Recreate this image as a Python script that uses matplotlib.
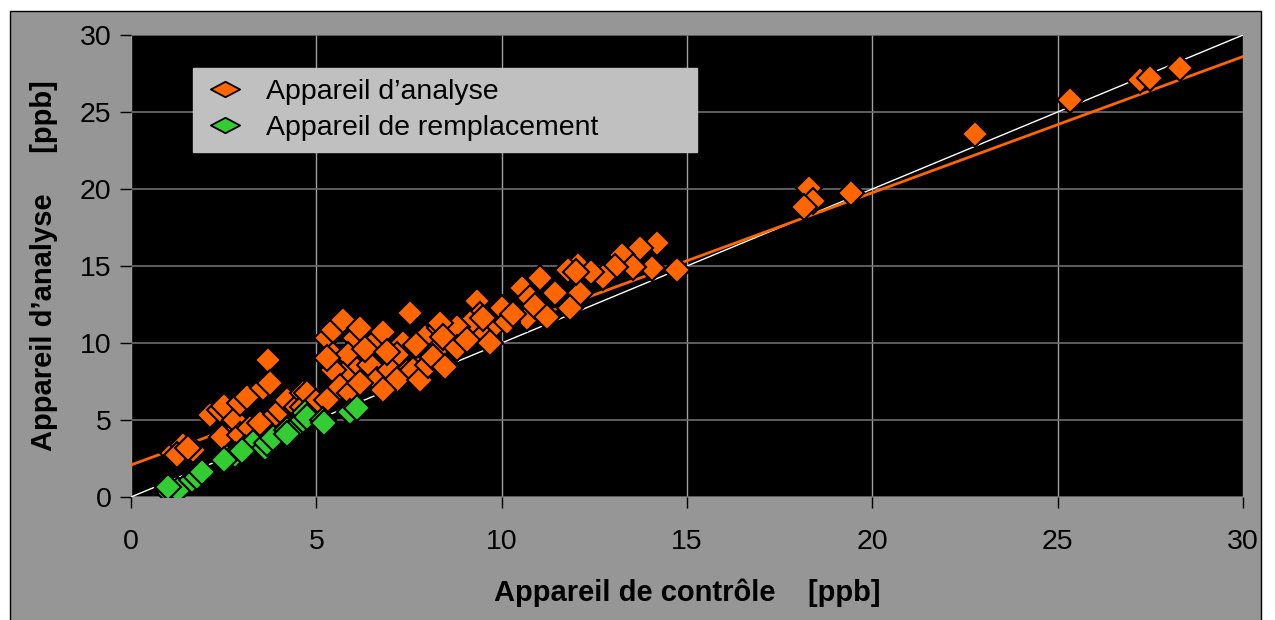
import numpy as np
import matplotlib.pyplot as plt
from matplotlib.lines import Line2D
from matplotlib.patches import Rectangle
from matplotlib.path import Path

plt.rcParams['font.family'] = ['Liberation Sans', 'DejaVu Sans']

# Appareil d'analyse (orange)
orange_x = [1.13, 1.40, 1.67, 1.25, 1.55,
            2.13, 2.40, 2.45, 2.50, 2.81, 2.94, 2.94, 3.13, 3.20, 3.48, 3.56, 3.70, 3.75, 3.90,
            4.02, 4.21, 4.48, 4.64, 4.64, 4.75, 4.91, 5.00,
            5.28, 5.45, 5.72, 6.04, 6.18, 6.63, 6.80, 7.53, 5.45, 5.85, 7.34, 7.17, 7.93, 8.34,
            8.12, 8.52, 6.10, 6.45, 6.63, 6.99, 7.44, 7.17, 6.80, 5.72, 5.45, 5.64, 5.91, 6.18,
            5.28, 7.61, 7.80, 5.30, 6.30, 6.90, 7.70, 8.00, 8.30,
            11.76, 11.03, 10.55, 11.44, 11.84, 11.17, 10.76, 10.68, 9.33, 9.41, 10.00, 9.77,
            9.41, 10.14, 10.30, 9.14, 8.79, 8.34, 8.42, 8.79, 8.15, 8.47, 9.06, 9.68, 9.50, 10.90,
            14.19, 13.73, 13.24, 14.73, 14.05, 13.54, 13.06, 12.73, 12.06, 11.79, 12.11, 11.84,
            11.44, 11.22, 12.40, 12.00,
            18.29, 18.40, 18.15, 19.42, 22.77, 25.33, 27.22, 27.49, 28.30]
orange_y = [2.86, 3.38, 3.05, 2.75, 3.20,
            5.30, 5.65, 3.90, 5.90, 5.00, 4.00, 6.10, 6.50, 4.50, 4.80, 7.10, 8.90, 7.40, 5.40,
            5.65, 6.30, 5.85, 6.75, 5.85, 6.75, 5.85, 6.20,
            10.30, 10.85, 11.50, 10.30, 11.00, 10.20, 10.70, 11.95, 9.20, 9.20, 10.00, 9.20, 10.40, 11.00,
            9.10, 8.45, 8.25, 8.60, 7.60, 8.25, 8.10, 7.60, 6.95, 7.90, 8.25, 7.15, 6.75, 7.40,
            6.30, 8.25, 7.60, 9.00, 9.60, 9.40, 9.90, 8.60, 9.70,
            14.70, 14.20, 13.55, 13.20, 12.35, 11.80, 12.90, 11.60, 12.70, 11.80, 12.25, 11.05,
            10.65, 11.35, 11.90, 11.30, 11.05, 11.30, 10.40, 9.70, 9.10, 8.45, 10.20, 10.00, 11.60, 12.40,
            16.50, 16.20, 15.70, 14.75, 14.90, 14.95, 14.95, 14.30, 15.05, 14.75, 13.25, 12.30,
            13.25, 11.70, 14.60, 14.60,
            20.05, 19.20, 18.85, 19.75, 23.60, 25.80, 27.10, 27.20, 27.85]

# Appareil de remplacement (vert)
green_x = [1.05, 1.27, 1.00, 1.65, 1.78, 1.92, 2.59, 2.81, 3.08, 3.29, 3.61, 3.67, 3.83,
           4.21, 4.42, 4.64, 4.69, 4.75, 5.18, 5.20, 5.91, 6.10, 3.00, 4.20, 2.50]
green_y = [0.26, 0.45, 0.65, 1.10, 1.30, 1.60, 2.53, 2.73, 3.20, 3.50, 3.20, 3.50, 3.83,
           4.35, 4.50, 5.00, 5.45, 5.20, 5.00, 4.80, 5.50, 5.80, 3.00, 4.10, 2.40]

# courbe de tendance
trend_slope = 0.884
trend_intercept = 2.08

axis_lim = [0, 30]
ticks = [0, 5, 10, 15, 20, 25, 30]

fig = plt.figure(figsize=(12.75, 6.2), dpi=100)
fig.patches.append(Rectangle((10 / 1275, -0.01), 1251 / 1275, 0.9923, transform=fig.transFigure,
                             facecolor='#969696', edgecolor='black', linewidth=1, zorder=-5))
ax = fig.add_axes([131 / 1275, 123 / 620, 1112 / 1275, 462 / 620])
ax.set_facecolor('black')

# droite 1:1 et tendance
ax.plot(axis_lim, axis_lim, color='white', lw=1, zorder=2)
xs = np.array(axis_lim)
ax.plot(xs, trend_slope * xs + trend_intercept, color='#ff6600', lw=2, zorder=2)

ax.plot(orange_x, orange_y, 'D', ms=13.5, mfc='#ff6600', mec='black', mew=1.5, zorder=3)
ax.plot(green_x, green_y, 'D', ms=13.5, mfc='#33cc33', mec='black', mew=1.5, zorder=4)

ax.set_xlim(axis_lim)
ax.set_ylim(axis_lim)
ax.set_xticks(ticks)
ax.set_yticks(ticks)
ax.grid(axis='y', color='#6e6e6e', lw=1.2, zorder=1)
ax.grid(axis='x', color='#a0a0a0', lw=1, zorder=1)
ax.set_axisbelow(True)
for s in ax.spines.values():
    s.set_visible(False)
ax.tick_params(direction='out', length=8, width=1, color='black', labelsize=20.5)
ax.tick_params(axis='x', pad=15)
ax.tick_params(axis='y', pad=6)
ax.set_xlabel('Appareil de contrôle    [ppb]', fontsize=21, fontweight='bold', labelpad=17)
ax.set_ylabel('Appareil d\u2019analyse     [ppb]', fontsize=21, fontweight='bold', labelpad=16)

flat = Path([(-1, 0), (0, 0.53), (1, 0), (0, -0.53), (-1, 0)],
            [Path.MOVETO, Path.LINETO, Path.LINETO, Path.LINETO, Path.CLOSEPOLY])
handles = [Line2D([], [], ls='none', marker=flat, ms=21, mfc='#ff6600', mec='black', mew=1.3),
           Line2D([], [], ls='none', marker=flat, ms=21, mfc='#33cc33', mec='black', mew=1.3)]
leg = ax.legend(handles, ['Appareil d\u2019analyse', 'Appareil de remplacement'],
                loc='upper left', bbox_to_anchor=(62 / 1112, 429 / 462, 504 / 1112, 0),
                mode='expand', fontsize=20.5, frameon=True, fancybox=False, framealpha=1,
                facecolor='#c0c0c0', edgecolor='#c0c0c0', borderpad=0.38, labelspacing=0.35,
                handlelength=1.5, handletextpad=0.7, borderaxespad=0)

fig.savefig('out.png', dpi=100, facecolor='white')
